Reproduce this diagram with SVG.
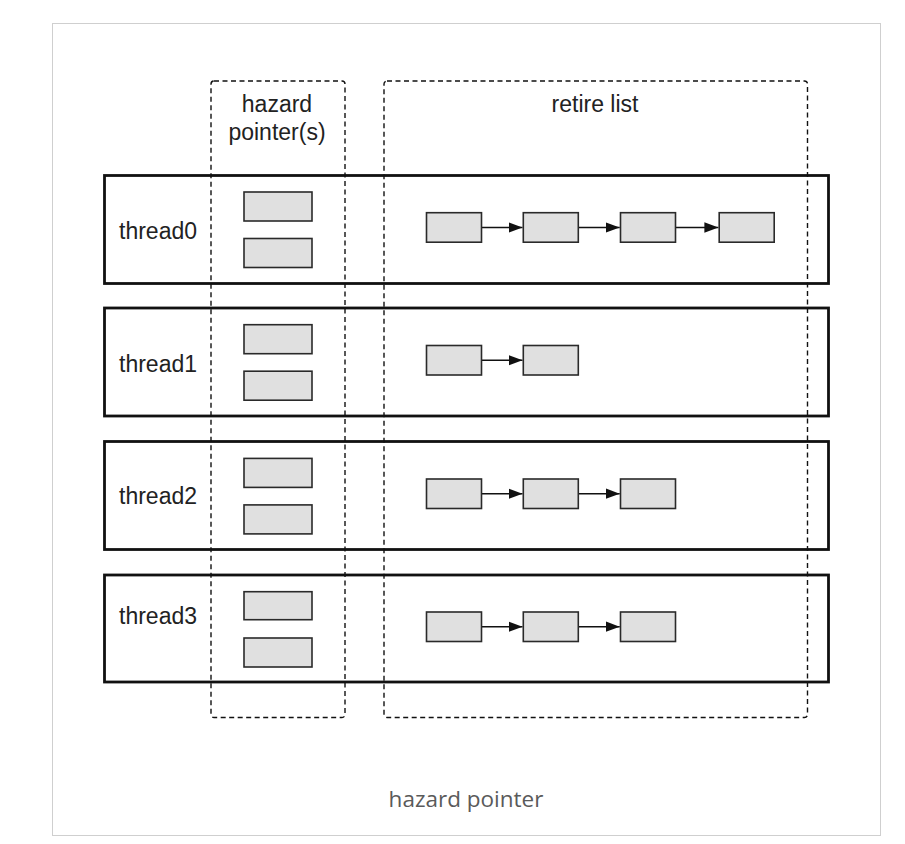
<svg xmlns="http://www.w3.org/2000/svg" width="905" height="844" viewBox="0 0 905 844">
<defs>
<style>
.frame{fill:#fff;stroke:#cfcfcf;stroke-width:1}
.thread{fill:none;stroke:#111;stroke-width:2.8}
.col{fill:none;stroke:#111;stroke-width:1.4;stroke-dasharray:5 3.5}
.cell{fill:#e0e0e0;stroke:#2a2a2a;stroke-width:1.6}
.lbl{font-family:"Liberation Sans",Arial,sans-serif;font-size:23px;fill:#222}
.cap{font-family:"Open Sans","Noto Sans",sans-serif;font-size:22.5px;fill:#5a5a5a}
.conn{stroke:#111;stroke-width:1.4;fill:none}
</style>
<marker id="ah" markerUnits="userSpaceOnUse" markerWidth="15" markerHeight="12" refX="14" refY="5.5" orient="auto">
<path d="M0,0.3 L14,5.5 L0,10.7 Z" fill="#111"/>
</marker>
</defs>
<rect class="frame" x="52.5" y="23.5" width="828" height="812"/>

<g id="thread0">
<rect class="thread" x="104.5" y="175.5" width="724" height="108"/>
<text class="lbl" x="119" y="239">thread0</text>
</g>
<g id="thread1">
<rect class="thread" x="104.5" y="308" width="724" height="108"/>
<text class="lbl" x="119" y="372">thread1</text>
</g>
<g id="thread2">
<rect class="thread" x="104.5" y="441.5" width="724" height="108"/>
<text class="lbl" x="119" y="504">thread2</text>
</g>
<g id="thread3">
<rect class="thread" x="104.5" y="575" width="724" height="107"/>
<text class="lbl" x="119" y="624">thread3</text>
</g>

<g id="hazard-pointers">
<rect class="col" x="211" y="81" width="134" height="636.5" rx="3"/>
<text class="lbl" x="277" y="112" text-anchor="middle">hazard</text>
<text class="lbl" x="277" y="140" text-anchor="middle">pointer(s)</text>
</g>
<g id="retire-list">
<rect class="col" x="384" y="81" width="423.5" height="636.5" rx="3"/>
<text class="lbl" x="595" y="112" text-anchor="middle">retire list</text>
</g>

<g id="hp-cells">
<rect class="cell" x="244" y="192" width="68" height="29"/>
<rect class="cell" x="244" y="238.5" width="68" height="29"/>
<rect class="cell" x="244" y="324.7" width="68" height="29"/>
<rect class="cell" x="244" y="371.2" width="68" height="29"/>
<rect class="cell" x="244" y="458.4" width="68" height="29"/>
<rect class="cell" x="244" y="504.9" width="68" height="29"/>
<rect class="cell" x="244" y="591.7" width="68" height="28"/>
<rect class="cell" x="244" y="638" width="68" height="29"/>
</g>

<g id="connectors">
<line class="conn" x1="481.5" y1="227.5" x2="522.5" y2="227.5" marker-end="url(#ah)"/>
<line class="conn" x1="578.3" y1="227.5" x2="619.7" y2="227.5" marker-end="url(#ah)"/>
<line class="conn" x1="675.5" y1="227.5" x2="718.4" y2="227.5" marker-end="url(#ah)"/>
<line class="conn" x1="481.5" y1="360.2" x2="522.5" y2="360.2" marker-end="url(#ah)"/>
<line class="conn" x1="481.5" y1="493.7" x2="522.5" y2="493.7" marker-end="url(#ah)"/>
<line class="conn" x1="578.3" y1="493.7" x2="619.7" y2="493.7" marker-end="url(#ah)"/>
<line class="conn" x1="481.5" y1="626.7" x2="522.5" y2="626.7" marker-end="url(#ah)"/>
<line class="conn" x1="578.3" y1="626.7" x2="619.7" y2="626.7" marker-end="url(#ah)"/>
</g>

<g id="retire-cells">
<rect class="cell" x="426.5" y="212.7" width="55" height="29.5"/>
<rect class="cell" x="523.3" y="212.7" width="55" height="29.5"/>
<rect class="cell" x="620.5" y="212.7" width="55" height="29.5"/>
<rect class="cell" x="719.2" y="212.7" width="55" height="29.5"/>
<rect class="cell" x="426.5" y="345.5" width="55" height="29.5"/>
<rect class="cell" x="523.3" y="345.5" width="55" height="29.5"/>
<rect class="cell" x="426.5" y="479" width="55" height="29.5"/>
<rect class="cell" x="523.3" y="479" width="55" height="29.5"/>
<rect class="cell" x="620.5" y="479" width="55" height="29.5"/>
<rect class="cell" x="426.5" y="612" width="55" height="29.5"/>
<rect class="cell" x="523.3" y="612" width="55" height="29.5"/>
<rect class="cell" x="620.5" y="612" width="55" height="29.5"/>
</g>

<text class="cap" x="466" y="807" text-anchor="middle">hazard pointer</text>
</svg>
